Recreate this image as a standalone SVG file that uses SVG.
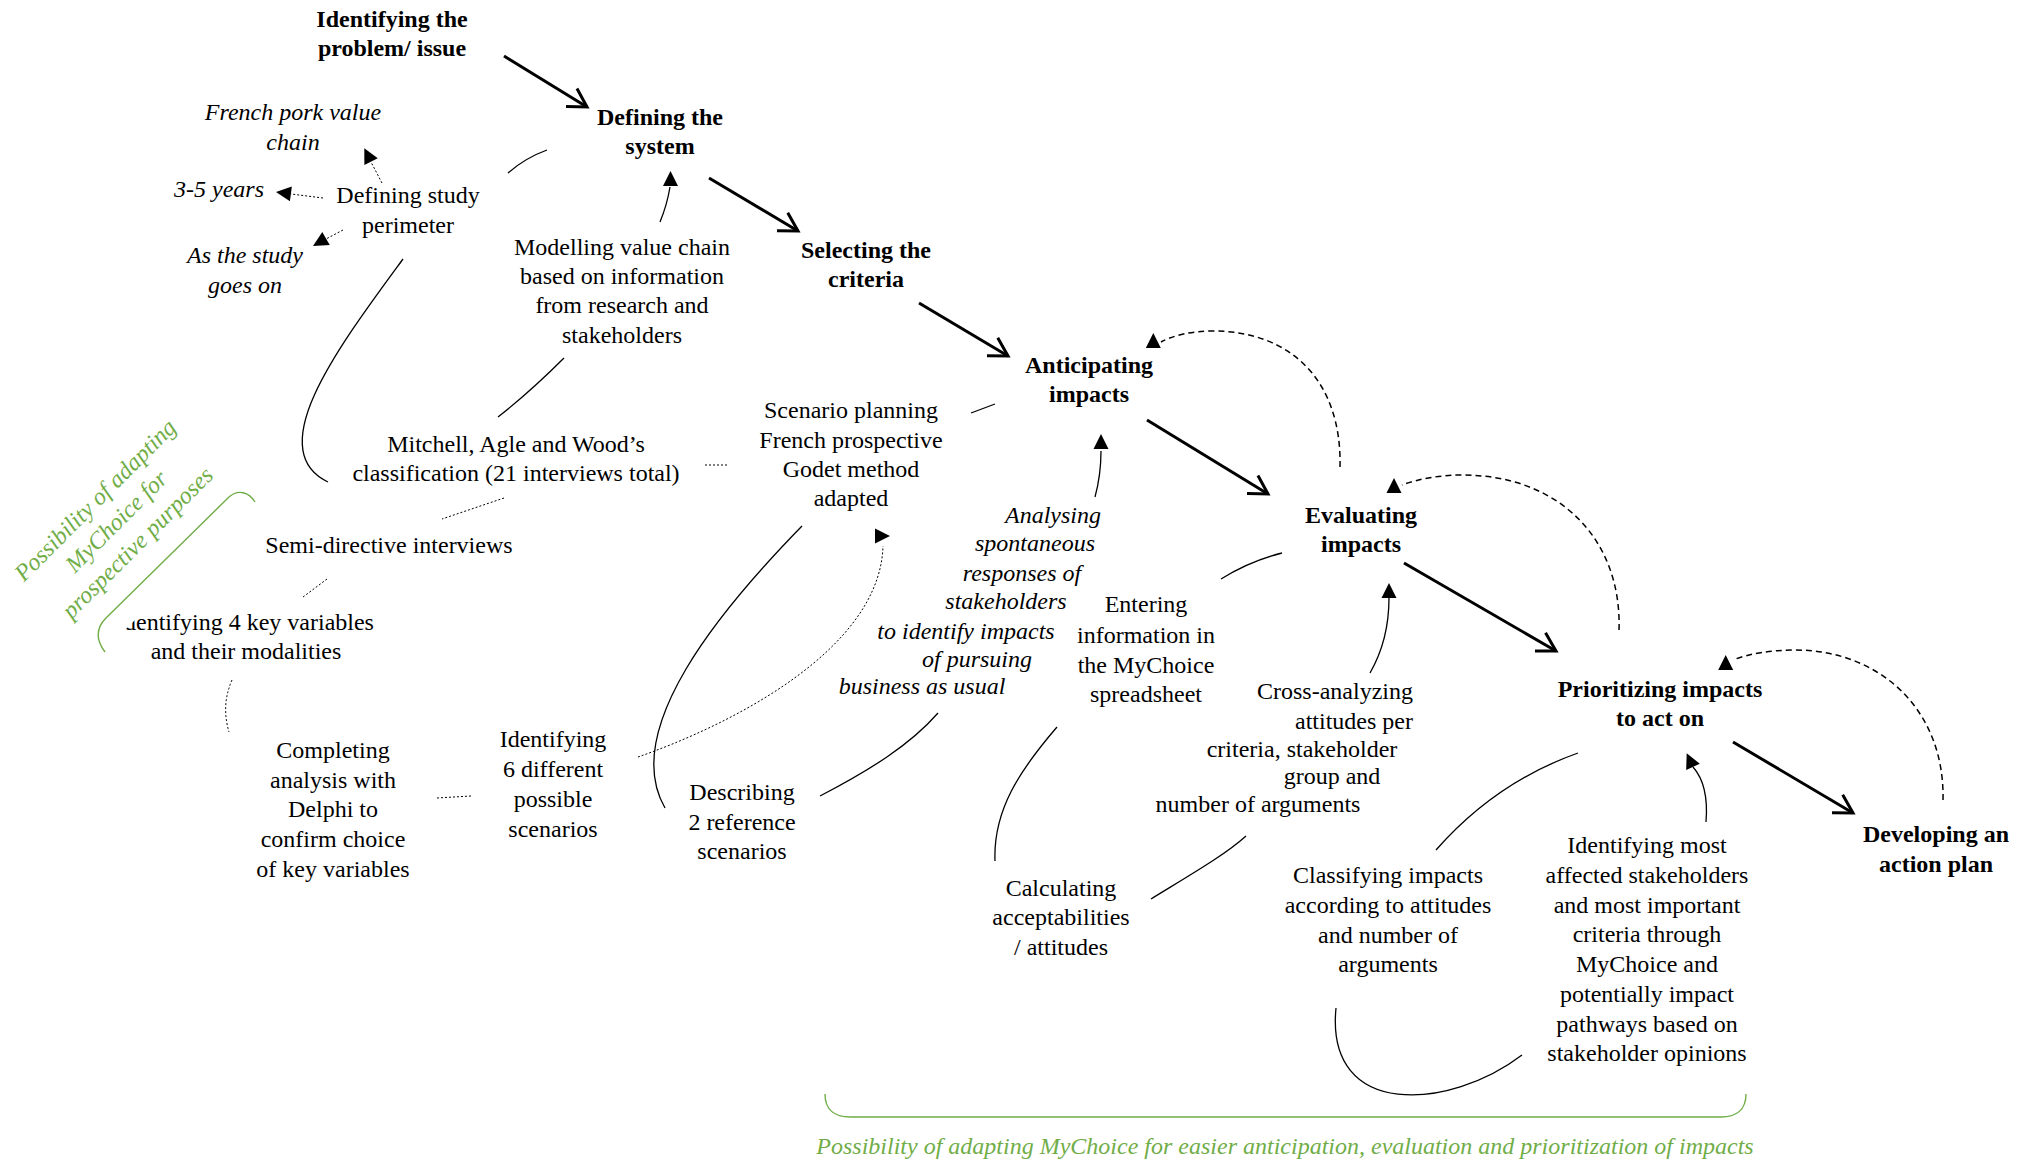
<svg xmlns="http://www.w3.org/2000/svg" xmlns:xlink="http://www.w3.org/1999/xlink" width="2034" height="1161" viewBox="0 0 2034 1161">
<defs>
<style>
text{font-family:"Liberation Serif","Times New Roman",serif;font-size:24px;fill:#000;text-anchor:middle}
.b{font-weight:bold}
.i{font-style:italic}
.g{font-style:italic;fill:#70AD47}
.thick{stroke:#000;stroke-width:3;fill:none;marker-end:url(#open)}
.thin{stroke:#000;stroke-width:1.3;fill:none}
.dot{stroke:#000;stroke-width:1;fill:none;stroke-dasharray:2 2}
.dash{stroke:#000;stroke-width:1.5;fill:none;stroke-dasharray:6 4}
.gl{stroke:#70AD47;stroke-width:1.4;fill:none}
</style>
<marker id="open" markerUnits="userSpaceOnUse" markerWidth="30" markerHeight="30" viewBox="-25 -15 30 30" refX="0" refY="0" orient="auto">
<path d="M-18.2,-10.5 L0,0 L-18.2,10.5" fill="none" stroke="#000" stroke-width="3"/>
</marker>
<path id="tri" d="M0,0 L7.5,15 L-7.5,15 Z" fill="#000"/>
</defs>
<rect width="2034" height="1161" fill="#fff"/>

<g id="connectors">
<!-- main thick arrows -->
<path class="thick" d="M504,56 L587,107"/>
<path class="thick" d="M709,178 L798,231"/>
<path class="thick" d="M919,303 L1008,356"/>
<path class="thick" d="M1147,420 L1268,494"/>
<path class="thick" d="M1404,563 L1556,651"/>
<path class="thick" d="M1733,742 L1853,813"/>

<!-- dotted arrows from Defining study perimeter -->
<path class="dot" d="M382,183 L371,162"/>
<use xlink:href="#tri" transform="translate(364.3,148.3) rotate(-26.8)"/>
<path class="dot" d="M323,198 L291,194"/>
<use xlink:href="#tri" transform="translate(276,192) rotate(-82.7)"/>
<path class="dot" d="M343,230 L326,239"/>
<use xlink:href="#tri" transform="translate(313,246) rotate(-119.8)"/>

<!-- thin solid connectors -->
<path class="thin" d="M547,150 Q525,158 508,173"/>
<path class="thin" d="M660,222 Q667,205 670,187"/>
<use xlink:href="#tri" transform="translate(670.5,171)"/>
<path class="thin" d="M403,259 C340,345 260,450 328,482"/>
<path class="thin" d="M564,358 Q530,392 498,417"/>
<path class="thin" d="M971,413 L995,404"/>
<path class="thin" d="M802,526 C720,610 620,730 665,808"/>
<path class="thin" d="M820,796 C870,770 910,745 938,713"/>
<path class="thin" d="M1095,497 Q1101,475 1101,451"/>
<use xlink:href="#tri" transform="translate(1101,434)"/>
<path class="thin" d="M1221,579 Q1250,561 1282,553"/>
<path class="thin" d="M995,861 C993,810 1020,770 1057,727"/>
<path class="thin" d="M1151,899 C1190,875 1225,855 1246,836"/>
<path class="thin" d="M1370,673 Q1389,640 1389,598"/>
<use xlink:href="#tri" transform="translate(1389,583)"/>
<path class="thin" d="M1436,850 C1480,800 1530,770 1578,753"/>
<path class="thin" d="M1706,822 Q1709,785 1693,767"/>
<use xlink:href="#tri" transform="translate(1686.7,753.3) rotate(-24.8)"/>
<path class="thin" d="M1336,1008 C1325,1120 1450,1110 1522,1055"/>

<!-- dotted connectors -->
<path class="dot" d="M705,465 L729,465"/>
<path class="dot" d="M504,498 L442,519"/>
<path class="dot" d="M327,579 L303,597"/>
<path class="dot" d="M232,680 Q221,705 229,732"/>
<path class="dot" d="M437,798 L471,796"/>
<path class="dot" d="M638,757 C730,725 880,650 883,546"/>
<use xlink:href="#tri" transform="translate(890,536) rotate(90)"/>

<!-- dashed feedback arcs -->
<path class="dash" d="M1340,467 C1342,380 1290,331 1213,331 C1190,331 1172,336 1161,342"/>
<use xlink:href="#tri" transform="translate(1153.3,333)"/>
<path class="dash" d="M1619,630 C1622,540 1560,475 1462,475 C1440,475 1418,479 1402,485"/>
<use xlink:href="#tri" transform="translate(1394,478)"/>
<path class="dash" d="M1943,800 C1945,710 1880,650 1795,650 C1770,650 1748,654 1733,660"/>
<use xlink:href="#tri" transform="translate(1725.7,655)"/>
</g>

<g id="n-problem"><text class="b"><tspan x="392" y="27">Identifying the</tspan><tspan x="392" y="56">problem/ issue</tspan></text></g>
<g id="n-system"><text class="b"><tspan x="660" y="125">Defining the</tspan><tspan x="660" y="154">system</tspan></text></g>
<g id="n-criteria"><text class="b"><tspan x="866" y="258">Selecting the</tspan><tspan x="866" y="287">criteria</tspan></text></g>
<g id="n-anticipating"><text class="b"><tspan x="1089" y="373">Anticipating</tspan><tspan x="1089" y="402">impacts</tspan></text></g>
<g id="n-evaluating"><text class="b"><tspan x="1361" y="523">Evaluating</tspan><tspan x="1361" y="552">impacts</tspan></text></g>
<g id="n-prioritizing"><text class="b"><tspan x="1660" y="697">Prioritizing impacts</tspan><tspan x="1660" y="726">to act on</tspan></text></g>
<g id="n-action"><text class="b"><tspan x="1936" y="842">Developing an</tspan><tspan x="1936" y="872">action plan</tspan></text></g>

<g id="n-french"><text class="i"><tspan x="293" y="120">French pork value</tspan><tspan x="293" y="150">chain</tspan></text></g>
<g id="n-years"><text class="i" x="219" y="197">3-5 years</text></g>
<g id="n-perimeter"><text><tspan x="408" y="203">Defining study</tspan><tspan x="408" y="233">perimeter</tspan></text></g>
<g id="n-asstudy"><text class="i"><tspan x="245" y="263">As the study</tspan><tspan x="245" y="293">goes on</tspan></text></g>
<g id="n-modelling"><text><tspan x="622" y="255">Modelling value chain</tspan><tspan x="622" y="284">based on information</tspan><tspan x="622" y="313">from research and</tspan><tspan x="622" y="343">stakeholders</tspan></text></g>
<g id="n-mitchell"><text><tspan x="516" y="452">Mitchell, Agle and Wood’s</tspan><tspan x="516" y="481">classification (21 interviews total)</tspan></text></g>
<g id="n-scenario"><text><tspan x="851" y="418">Scenario planning</tspan><tspan x="851" y="448">French prospective</tspan><tspan x="851" y="477">Godet method</tspan><tspan x="851" y="506">adapted</tspan></text></g>
<g id="n-semi"><text x="389" y="553">Semi-directive interviews</text></g>
<g id="n-keyvars"><text><tspan x="245" y="630">Identifying 4 key variables</tspan><tspan x="246" y="659">and their modalities</tspan></text></g>
<g id="n-delphi"><text><tspan x="333" y="758">Completing</tspan><tspan x="333" y="788">analysis with</tspan><tspan x="333" y="817">Delphi to</tspan><tspan x="333" y="847">confirm choice</tspan><tspan x="333" y="877">of key variables</tspan></text></g>
<g id="n-six"><text><tspan x="553" y="747">Identifying</tspan><tspan x="553" y="777">6 different</tspan><tspan x="553" y="807">possible</tspan><tspan x="553" y="837">scenarios</tspan></text></g>
<g id="n-describing"><text><tspan x="742" y="800">Describing</tspan><tspan x="742" y="830">2 reference</tspan><tspan x="742" y="859">scenarios</tspan></text></g>
<g id="n-analysing"><text class="i"><tspan x="1053" y="523">Analysing</tspan><tspan x="1035" y="551">spontaneous</tspan><tspan x="1022" y="581">responses of</tspan><tspan x="1006" y="609">stakeholders</tspan><tspan x="966" y="639">to identify impacts</tspan><tspan x="977" y="667">of pursuing</tspan><tspan x="922" y="694">business as usual</tspan></text></g>
<g id="n-entering"><text><tspan x="1146" y="612">Entering</tspan><tspan x="1146" y="643">information in</tspan><tspan x="1146" y="673">the MyChoice</tspan><tspan x="1146" y="702">spreadsheet</tspan></text></g>
<g id="n-cross"><text><tspan x="1335" y="699">Cross-analyzing</tspan><tspan x="1354" y="729">attitudes per</tspan><tspan x="1302" y="757">criteria, stakeholder</tspan><tspan x="1332" y="784">group and</tspan><tspan x="1258" y="812">number of arguments</tspan></text></g>
<g id="n-calculating"><text><tspan x="1061" y="896">Calculating</tspan><tspan x="1061" y="925">acceptabilities</tspan><tspan x="1061" y="955">/ attitudes</tspan></text></g>
<g id="n-classifying"><text><tspan x="1388" y="883">Classifying impacts</tspan><tspan x="1388" y="913">according to attitudes</tspan><tspan x="1388" y="943">and number of</tspan><tspan x="1388" y="972">arguments</tspan></text></g>
<g id="n-identifying-most"><text><tspan x="1647" y="853">Identifying most</tspan><tspan x="1647" y="883">affected stakeholders</tspan><tspan x="1647" y="913">and most important</tspan><tspan x="1647" y="942">criteria through</tspan><tspan x="1647" y="972">MyChoice and</tspan><tspan x="1647" y="1002">potentially impact</tspan><tspan x="1647" y="1032">pathways based on</tspan><tspan x="1647" y="1061">stakeholder opinions</tspan></text></g>

<g id="note-prospective">
<g transform="translate(117,522) rotate(-45)">
<rect x="-130" y="-55" width="260" height="137" fill="#fff"/>
<text class="g"><tspan x="0" y="-23">Possibility of adapting</tspan><tspan x="0" y="7">MyChoice for</tspan><tspan x="0" y="37">prospective purposes</tspan></text>
</g>
<path class="gl" d="M105,652 C96,640 96,628 106,618 L229,497 C238,489 249,492 255,502"/>
</g>

<g id="note-bottom">
<path class="gl" d="M825,1094 C825,1110 835,1117 850,1117 L1721,1117 C1736,1117 1746,1110 1746,1094"/>
<text class="g" x="1285" y="1154">Possibility of adapting MyChoice for easier anticipation, evaluation and prioritization of impacts</text>
</g>
</svg>
